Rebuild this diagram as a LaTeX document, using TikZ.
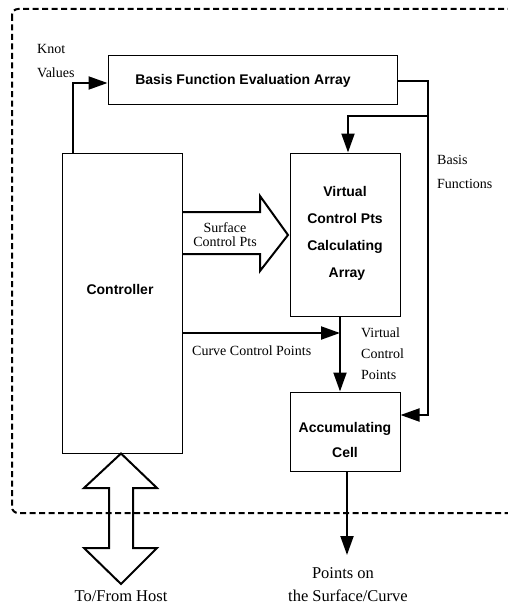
\documentclass[tikz,border=0pt]{standalone}
\usepackage{fontspec}
\setmainfont{Liberation Serif}
\newfontfamily\blockfont{Liberation Sans}
\usetikzlibrary{arrows.meta}
\tikzset{
  block/.style={draw, line width=1pt, inner sep=0pt},
  blocktext/.style={font=\blockfont\bfseries\fontsize{14}{26}\selectfont, align=center},
  lbl/.style={font=\fontsize{14}{14}\selectfont, inner sep=0pt},
  biglbl/.style={font=\fontsize{16.5}{23}\selectfont, inner sep=0pt, align=center},
  flow/.style={line width=2pt, -{Triangle[length=19pt,width=13pt]}},
  wire/.style={line width=2pt},
  hollow/.style={line width=2pt, line join=miter},
}
\begin{document}
\begin{tikzpicture}[x=1pt,y=-1pt]
\useasboundingbox (0,0) rectangle (508,610);

% chip boundary
\draw[line width=2pt, dash pattern=on 6pt off 3.5pt, rounded corners=6pt]
  (12,9) rectangle (540,513);

% blocks
\node[block, minimum width=289pt, minimum height=48pt] (bfea) at (252.5,80) {};
\node[blocktext] (bfeat) at (243,81) {Basis Function Evaluation Array};
\node[block, minimum width=120pt, minimum height=300pt] (ctrl) at (122,303) {};
\node[blocktext] (ctrlt) at (120,289) {Controller};
\node[block, minimum width=110pt, minimum height=163pt] (vcp) at (345,234.5) {};
\node[blocktext, font=\blockfont\bfseries\fontsize{14}{27}\selectfont] (vcpt) at (345,233)
  {Virtual\\Control Pts\\Calculating\\\hspace{4pt}Array};
\node[block, minimum width=110pt, minimum height=79pt] (acc) at (345,431.5) {};
\node[blocktext, font=\blockfont\bfseries\fontsize{14}{25}\selectfont] (acct) at (345,440)
  {Accumulating\\Cell};

% labels
\node[lbl, anchor=west, align=left, font=\fontsize{14}{24}\selectfont] (knot) at (37,61) {Knot\\Values};
\node[lbl, anchor=west, align=left, font=\fontsize{14}{24}\selectfont] (basisl) at (437,172) {Basis\\Functions};
\node[lbl, align=center] (surfl) at (225,235) {Surface\\Control Pts};
\node[lbl, anchor=west] (curvel) at (192,351) {Curve Control Points};
\node[lbl, anchor=west, align=left, font=\fontsize{14}{21}\selectfont] (virtl) at (361,354) {Virtual\\Control\\Points};
\node[biglbl] (hostl) at (121,596) {To/From Host};
\node[biglbl] (outl) at (343,584.5) {Points on\\\hspace{10pt}the Surface/Curve};

% bend points
\coordinate (kbend) at (ctrl.north west |- 0,83);
\coordinate (kstart) at (73,153);
\coordinate (bout) at (bfea.east |- 0,81);
\coordinate (bcorner) at (428,81);
\coordinate (bsplit) at (428,116);
\coordinate (bdown) at (348,116);
\coordinate (bbottom) at (428,415);
\coordinate (cstart) at (182,333);
\coordinate (vtop) at (340,316);
\coordinate (ostart) at (347,471);
\coordinate (oend) at (347,555);

% knot values into the basis array
\draw[flow] (kstart) -- (73,83) -- (bfea.west |- 0,83);
% basis functions out
\draw[wire] (bout) -- (bcorner) -- (bsplit);
\draw[flow] (bsplit) -- (bbottom) -- (acc.east |- bbottom);
\draw[flow] (bsplit) -- (bdown) -- (vcp.north -| bdown);
% curve control points
\draw[flow] (cstart) -- (vtop |- cstart);
% virtual control points
\draw[flow] (vtop) -- (acc.north -| vtop);
% result out
\draw[flow] (ostart) -- (oend);

% surface control points (hollow arrow)
\draw[hollow] (182,212) -- (260,212) -- (260,196) -- (288,235) -- (260,271) -- (260,254) -- (182,254);

% host interface (double arrow)
\draw[hollow] (ctrl.south -| 121,0) -- (157,488) -- (133,488) -- (133,548) -- (157,548) -- (121,584)
  -- (84,548) -- (109,548) -- (109,488) -- (84,488) -- cycle;
\end{tikzpicture}
\end{document}
